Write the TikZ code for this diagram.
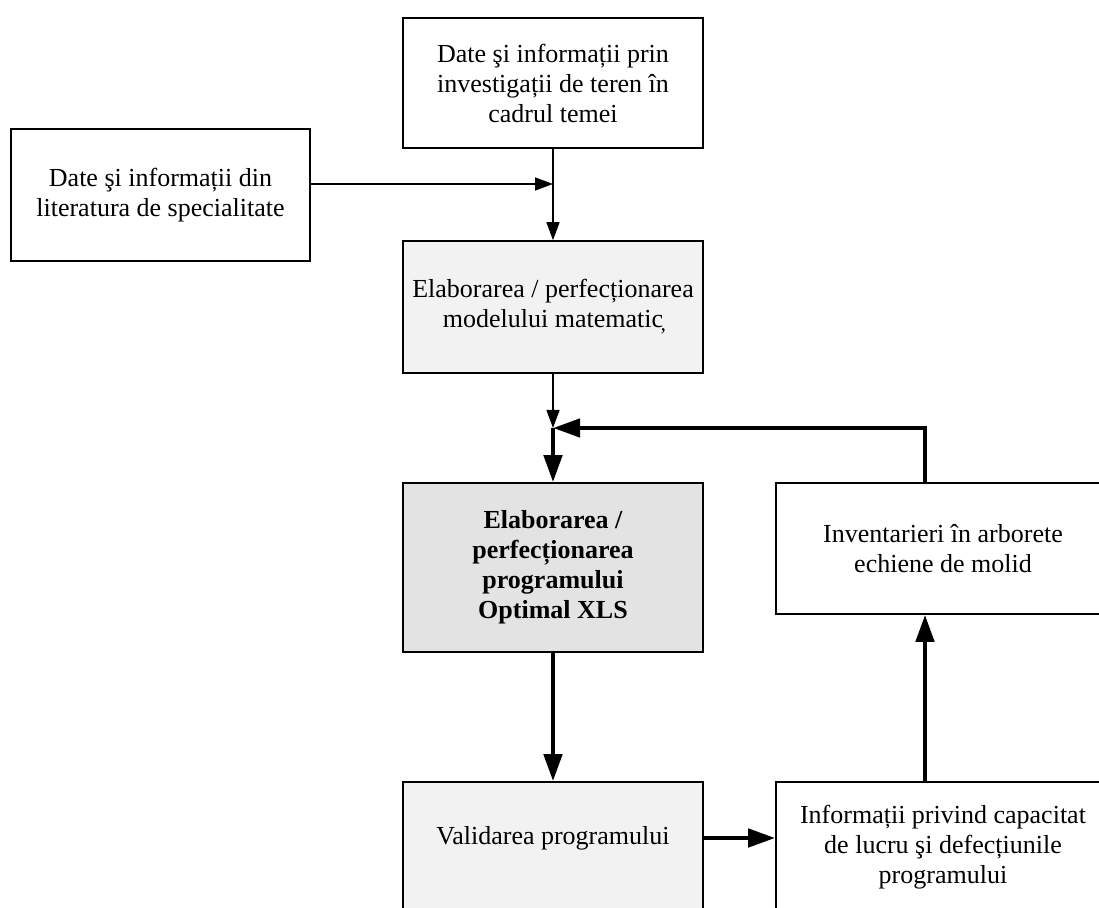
\documentclass[tikz,border=0pt]{standalone}
\usepackage{fontspec}
\setmainfont{Liberation Serif}
\definecolor{boxgray}{RGB}{242,242,242}
\definecolor{proggray}{RGB}{227,227,227}
\usetikzlibrary{arrows.meta}

\begin{document}
\begin{tikzpicture}[x=0.5pt,y=-0.5pt,
    box/.style={draw, line width=0.8pt, align=center, font=\fontsize{13}{15}\selectfont,
      inner sep=0pt},
    thinarrow/.style={line width=0.7pt, -{Triangle[length=9pt,width=6.5pt]}},
    thickarrow/.style={line width=2.3pt, -{Triangle[length=13.5pt,width=9pt]}},
    thickline/.style={line width=2.3pt}]
  \clip (0,0) rectangle (1099,908);
  % boxes
  \node[box, minimum width=150pt, minimum height=65pt] (teren) at (553,83)
    {Date ş{}i informații prin\\investigații de teren în\\cadrul temei};
  \node[box, minimum width=149.5pt, minimum height=66pt] (lit) at (160.5,195)
    {Date ş{}i informații din\\literatura de specialitate};
  \node[box, fill=boxgray, minimum width=150pt, minimum height=66pt] (model) at (553,307)
    {Elaborarea / perfecționarea\\modelului matematic̦};
  \node[box, fill=proggray, minimum width=150pt, minimum height=84.5pt, font=\fontsize{13}{15}\selectfont\bfseries] (prog) at (553,567.5)
    {Elaborarea /\\perfecționarea\\programului\\Optimal XLS};
  \node[box, minimum width=167pt, minimum height=65.5pt] (inv) at (943,548.5)
    {Inventarieri în arborete\\echiene de molid};
  \node[box, fill=boxgray, minimum width=150pt, text height=31.5pt, text depth=42pt, anchor=base] (valid) at (553,845)
    {Validarea programului};
  \node[box, minimum width=167pt, minimum height=65pt] (info) at (943,847)
    {Informații privind capacitat\\de lucru ş{}i defecțiunile\\programului};
  % connectors
  \coordinate (litin) at (553,184);
  \coordinate (merge) at (553,428);
  \coordinate (loop) at (925,428);
  \draw[thinarrow] (teren.south) -- (model.north);
  \draw[thinarrow] (lit.east |- litin) -- (litin);
  \draw[thinarrow] (model.south) -- (merge);
  \draw[thickarrow] (inv.north -| loop) -- (loop) -- (merge);
  \draw[thickarrow] (merge) -- (prog.north);
  \draw[thickarrow] (prog.south) -- (valid.north);
  \draw[thickarrow] (valid.east |- 0,838) -- (info.west |- 0,838);
  \draw[thickarrow] (info.north -| loop) -- (inv.south -| loop);
\end{tikzpicture}
\end{document}
